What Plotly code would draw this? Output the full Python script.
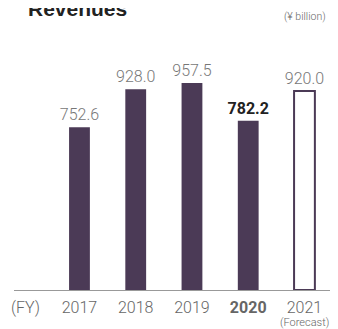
import plotly.graph_objects as go

years = ["2017", "2018", "2019", "2020", "2021"]
revenues = [752.6, 928.0, 957.5, 782.2, 920.0]
value_labels = ["752.6", "928.0", "957.5", "<b>782.2</b>", "920.0"]
tick_labels = ["(FY)", "2017", "2018", "2019", "<b>2020</b>", "2021"]

purple = "#4b3a56"
font_family = "Roboto, Liberation Sans, Arial, sans-serif"

# the page draws the figure 8px in from the top-left corner, so the figure is
# 8px smaller and everything is placed 8px up and left of where it shows
fig = go.Figure()
fig.add_trace(go.Bar(
    x=list(range(len(years))),
    y=revenues,
    width=0.37,
    marker=dict(
        color=[purple, purple, purple, purple, "white"],
        line=dict(color=purple, width=[0, 0, 0, 0, 2]),
    ),
    text=value_labels,
    textposition="outside",
    cliponaxis=False,
    constraintext="none",
    textfont=dict(
        size=16,
        color=["#777777", "#777777", "#777777", "#222222", "#777777"],
        family=font_family,
        weight=300,
    ),
    hoverinfo="skip",
))

fig.update_layout(
    width=330,
    height=321,
    margin=dict(l=6, r=0, t=0, b=39),
    plot_bgcolor="white",
    paper_bgcolor="white",
    showlegend=False,
    font=dict(family=font_family, color="#666666"),
    xaxis=dict(
        range=[-1.164, 4.596],
        tickvals=[-0.96, 0, 1, 2, 3, 4],
        ticktext=tick_labels,
        tickfont=dict(size=16, color="#666666", weight=300),
        ticklabelstandoff=3,
        showline=True,
        linecolor="#999999",
        linewidth=1,
        showgrid=False,
        zeroline=False,
        ticks="",
        fixedrange=True,
    ),
    yaxis=dict(
        range=[0, 1304],
        visible=False,
        fixedrange=True,
    ),
    annotations=[
        dict(
            text="<b>Revenues</b>", xref="paper", yref="paper",
            x=0, y=1.0, xanchor="left", yanchor="middle",
            xshift=12, yshift=0, showarrow=False,
            font=dict(size=21, color="#222222", family="Liberation Sans, Arial, sans-serif"),
        ),
        dict(
            text="(¥ billion)", xref="paper", yref="paper",
            x=1.0, y=1.0, xanchor="right", yanchor="middle",
            xshift=-10, yshift=-8, showarrow=False,
            font=dict(size=10.5, color="#666666", weight=300),
        ),
        dict(
            text="(Forecast)", xref="x", yref="paper",
            x=4, y=0, xanchor="center", yanchor="middle",
            yshift=-32, showarrow=False,
            font=dict(size=11, color="#666666", weight=300),
        ),
    ],
)

fig.write_html("out.html")
